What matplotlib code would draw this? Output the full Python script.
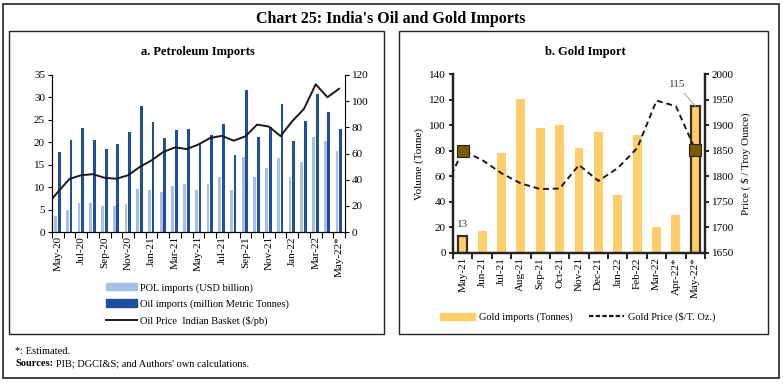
import numpy as np
import matplotlib
matplotlib.use("Agg")
import matplotlib.pyplot as plt
from matplotlib.patches import Rectangle, Patch
from matplotlib.lines import Line2D

plt.rcParams['font.family'] = ['Liberation Serif', 'DejaVu Serif']

# ---- data: petroleum ----
oil_months = ['May-20', 'Jun-20', 'Jul-20', 'Aug-20', 'Sep-20', 'Oct-20', 'Nov-20', 'Dec-20',
              'Jan-21', 'Feb-21', 'Mar-21', 'Apr-21', 'May-21', 'Jun-21', 'Jul-21', 'Aug-21',
              'Sep-21', 'Oct-21', 'Nov-21', 'Dec-21', 'Jan-22', 'Feb-22', 'Mar-22', 'Apr-22', 'May-22*']
pol_imports = [3.5, 4.9, 6.5, 6.4, 5.7, 5.9, 6.2, 9.5, 9.4, 9.0, 10.2, 10.8, 9.4,
               10.6, 12.3, 9.4, 16.8, 12.3, 14.2, 16.4, 12.3, 15.5, 21.1, 20.2, 18.1]
oil_imports = [17.9, 20.5, 23.2, 20.4, 18.5, 19.6, 22.3, 28.2, 24.5, 20.9, 22.7, 23.0, 19.6,
               21.6, 24.0, 17.2, 31.7, 21.2, 23.3, 28.5, 20.3, 24.7, 30.7, 26.7, 23.0]
oil_price_prev = 19.9   # Apr-20, only the clipped start of the line shows
oil_price = [30.6, 40.6, 43.4, 44.2, 41.4, 40.7, 43.4, 49.8, 54.8, 61.2, 64.7, 63.4, 66.9,
             71.9, 73.5, 69.8, 73.1, 82.1, 80.6, 73.3, 84.7, 94.1, 112.9, 103.0, 109.5]

# ---- data: gold ----
gold_months = ['May-21', 'Jun-21', 'Jul-21', 'Aug-21', 'Sep-21', 'Oct-21', 'Nov-21',
               'Dec-21', 'Jan-22', 'Feb-22', 'Mar-22', 'Apr-22*', 'May-22*']
gold_imports = [13, 17.5, 78, 120.5, 98, 100, 82.5, 95, 45.5, 92, 20, 29.5, 115]
gold_price_prev = 1768  # Apr-21, clipped start of the line
gold_price = [1850, 1832, 1806, 1786, 1775, 1776, 1822, 1791, 1816, 1855, 1948, 1937, 1852]

W, H = 783, 384
fig = plt.figure(figsize=(W / 100, H / 100), dpi=100)


def rect(x0, y0, x1, y1):
    return [x0 / W, 1 - y1 / H, (x1 - x0) / W, (y1 - y0) / H]


def frame(x0, y0, x1, y1, lw=1.0):
    fig.patches.append(Rectangle((x0 / W, 1 - y1 / H), (x1 - x0) / W, (y1 - y0) / H,
                                 transform=fig.transFigure, fill=False,
                                 edgecolor='#222222', linewidth=lw))


frame(3, 4, 779, 378, 1.2)
frame(9, 31, 384, 334)
frame(399, 31, 768, 334)

fig.text(391 / W, 1 - 19 / H, "Chart 25: India's Oil and Gold Imports",
         ha='center', va='center', fontsize=11.5, fontweight='bold')
fig.text(15 / W, 1 - 351 / H, "*: Estimated.", fontsize=7.5, va='center')
fig.text(15 / W, 1 - 364 / H, "Sources:", fontsize=7.5, va='center', fontweight='bold')
fig.text(56 / W, 1 - 364 / H, "PIB; DGCI&S; and Authors' own calculations.", fontsize=7.5, va='center')

POL_C = '#A6C0E6'
OIL_C = '#1F4F9C'
GOLD_C = '#FFCD6A'
TS = 8  # tick label size

# ---- panel a ----
ax = fig.add_axes(rect(52, 75, 345, 232))
x = np.arange(len(oil_months))
ax.bar(x - 0.19, pol_imports, width=0.24, color=POL_C)
ax.bar(x + 0.12, oil_imports, width=0.24, color=OIL_C)
ax.set_xlim(-0.5, len(oil_months) - 0.5)
ax.set_ylim(0, 35)
ax.set_yticks(range(0, 36, 5))
ax.set_xticks(x[::2])
ax.set_xticklabels(oil_months[::2], rotation=90, fontsize=TS)
ax.set_xticks(np.arange(-0.5, len(oil_months), 1), minor=True)
ax.tick_params(axis='x', which='major', length=0, pad=3)
ax.tick_params(axis='x', which='minor', length=4, width=0.8)
ax.tick_params(axis='y', labelsize=TS, length=3, width=0.8, pad=2)
for s in ['top', 'right']:
    ax.spines[s].set_visible(False)
ax2 = ax.twinx()
ax2.plot(np.arange(-1, len(oil_months)), [oil_price_prev] + oil_price, color='#1a1a1a', lw=1.4)
ax2.set_ylim(0, 120)
ax2.set_yticks(range(0, 121, 20))
ax2.tick_params(axis='y', labelsize=TS, length=3, width=0.8, pad=2)
ax2.spines['top'].set_visible(False)
ax2.set_xlim(-0.5, len(oil_months) - 0.5)
fig.text(198 / W, 1 - 52 / H, "a. Petroleum Imports", ha='center', va='center',
         fontsize=9, fontweight='bold')

fig.legend(handles=[Patch(color=POL_C), Patch(color=OIL_C), Line2D([], [], color='#1a1a1a', lw=1.4)],
           labels=['POL imports (USD billion)', 'Oil imports (million Metric Tonnes)',
                   'Oil Price  Indian Basket ($/pb)'],
           loc='upper left', bbox_to_anchor=(106 / W, 1 - 283 / H), frameon=False,
           fontsize=7.5, handlelength=3.0, handleheight=0.7, labelspacing=0.65,
           handletextpad=0.3, borderaxespad=0, borderpad=0)

# ---- panel b ----
bx = fig.add_axes(rect(453, 74, 705, 253))
g = np.arange(len(gold_months))
bars = bx.bar(g, gold_imports, width=0.46, color=GOLD_C)
for i in (0, len(gold_months) - 1):
    bars[i].set_edgecolor('#3a3020')
    bars[i].set_linewidth(1.6)
bx.set_xlim(-0.5, len(gold_months) - 0.5)
bx.set_ylim(0, 140)
bx.set_yticks(range(0, 141, 20))
bx.set_xticks(g)
bx.set_xticklabels(gold_months, rotation=90, fontsize=TS)
bx.set_xticks(np.arange(-0.5, len(gold_months), 1), minor=True)
bx.tick_params(axis='x', which='major', length=0, pad=3)
bx.tick_params(axis='x', which='minor', length=4, width=1.2)
bx.tick_params(axis='y', labelsize=TS, length=3, width=1.2, pad=2)
bx.spines['top'].set_visible(False)
for s in ['left', 'bottom', 'right']:
    bx.spines[s].set_linewidth(1.6)
    bx.spines[s].set_color('#222222')
bx.set_ylabel('Volume (Tonne)', fontsize=8, labelpad=4)
bx.annotate('13', (0, gold_imports[0]), xytext=(0, 5), textcoords='offset points',
            ha='center', va='bottom', fontsize=8, color='#333333')
bx.annotate('115', (g[-1], gold_imports[-1]), xytext=(-19, 12), textcoords='offset points',
            ha='left', va='bottom', fontsize=8, color='#333333',
            arrowprops=dict(arrowstyle='-', color='#aaaaaa', lw=0.8, shrinkA=1, shrinkB=0))

bx2 = bx.twinx()
bx2.plot(np.arange(-1, len(gold_months)), [gold_price_prev] + gold_price, color='#1a1a1a',
         lw=1.4, ls=(0, (3, 2)))
ends = [0, len(gold_months) - 1]
bx2.plot(ends, [gold_price[i] for i in ends], ls='none', marker='s', ms=9,
         mfc='#7A5A05', mec='#2a2000', mew=0.8)
bx2.set_xlim(-0.5, len(gold_months) - 0.5)
bx2.set_ylim(1650, 2000)
bx2.set_yticks(range(1650, 2001, 50))
bx2.tick_params(axis='y', labelsize=TS, length=3, width=1.2, pad=2)
bx2.spines['top'].set_visible(False)
for s in ['left', 'bottom', 'right']:
    bx2.spines[s].set_linewidth(1.6)
    bx2.spines[s].set_color('#222222')
bx2.set_ylabel('Price ( $ / Troy Ounce)', fontsize=8, labelpad=5)
fig.text(585 / W, 1 - 52 / H, "b. Gold Import", ha='center', va='center',
         fontsize=9, fontweight='bold')

fig.legend(handles=[Patch(color=GOLD_C), Line2D([], [], color='#1a1a1a', lw=1.6, ls=(0, (2, 1)))],
           labels=['Gold imports (Tonnes)', 'Gold Price ($/T. Oz.)'],
           loc='center left', bbox_to_anchor=(440 / W, 1 - 317 / H), frameon=False, ncol=2,
           fontsize=7.5, handlelength=3.4, handleheight=0.7, columnspacing=1.6,
           handletextpad=0.3, borderaxespad=0, borderpad=0)

fig.savefig('out.png', dpi=100)
